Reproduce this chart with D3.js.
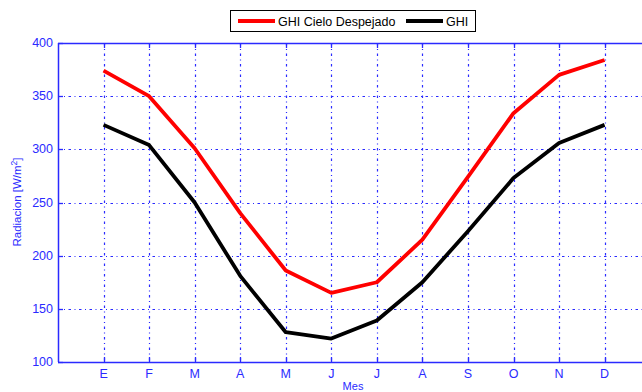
<!DOCTYPE html>
<html><head><meta charset="utf-8">
<script src="https://cdn.jsdelivr.net/npm/d3@7"></script>
<style>body{margin:0;background:#fff}svg{display:block}</style>
</head><body><svg id="c" width="642" height="392"></svg>
<script>
const months = ["E","F","M","A","M","J","J","A","S","O","N","D"];
const ghiClear = [374, 350, 301, 240, 186, 165, 175, 215, 274, 334, 370, 384];
const ghi = [323, 304, 250, 181, 128, 122, 139, 175, 223, 273, 306, 323];
const yTicks = [100,150,200,250,300,350,400];
const seriesNames = ["GHI Cielo Despejado","GHI"];
const seriesColors = ["#ff0000","#000000"];

const svg = d3.select("#c");
const L=58, T=43, B=362, Rpx=58+13*45.55;
const x = d3.scaleLinear().domain([0,13]).range([L,Rpx]);
const y = d3.scaleLinear().domain([100,400]).range([B,T]);
const axisCol="#2a2aff", font="Liberation Sans, Arial, Helvetica, sans-serif";

// grid
const g = svg.append("g");
g.selectAll("line.h").data(yTicks.slice(1,-1)).join("line")
 .attr("x1",L).attr("x2",642).attr("y1",d=>Math.round(y(d))+0.5).attr("y2",d=>Math.round(y(d))+0.5)
 .attr("stroke",axisCol).attr("stroke-width",1.2).attr("stroke-dasharray","2.5,3.5,1,3.5");
g.selectAll("line.v").data(months.map((m,i)=>i+1)).join("line")
 .attr("x1",d=>Math.round(x(d))+0.5).attr("x2",d=>Math.round(x(d))+0.5).attr("y1",T).attr("y2",B)
 .attr("stroke",axisCol).attr("stroke-width",1.2).attr("stroke-dasharray","2.5,3.5,1,3.5");

// axes frame
svg.append("line").attr("x1",L+0.5).attr("x2",L+0.5).attr("y1",T).attr("y2",B).attr("stroke",axisCol).attr("stroke-width",1.5);
svg.append("line").attr("x1",L).attr("x2",642).attr("y1",B+0.5).attr("y2",B+0.5).attr("stroke",axisCol).attr("stroke-width",1.5);
svg.append("line").attr("x1",L).attr("x2",642).attr("y1",T+0.5).attr("y2",T+0.5).attr("stroke",axisCol).attr("stroke-width",1.5);

// ticks
months.forEach((m,i)=>{
  const xx=Math.round(x(i+1))+0.5;
  svg.append("line").attr("x1",xx).attr("x2",xx).attr("y1",B).attr("y2",B-5).attr("stroke",axisCol).attr("stroke-width",1.3);
  svg.append("line").attr("x1",xx).attr("x2",xx).attr("y1",T).attr("y2",T+5).attr("stroke",axisCol).attr("stroke-width",1.3);
  svg.append("text").attr("x",x(i+1)).attr("y",B+16).attr("text-anchor","middle")
   .attr("font-family",font).attr("font-size",12.5).attr("fill",axisCol).text(m);
});
yTicks.forEach(v=>{
  const yy=Math.round(y(v))+0.5;
  svg.append("line").attr("x1",L).attr("x2",L+5).attr("y1",yy).attr("y2",yy).attr("stroke",axisCol).attr("stroke-width",1.3);
  svg.append("text").attr("x",L-5).attr("y",y(v)+4).attr("text-anchor","end")
   .attr("font-family",font).attr("font-size",12.5).attr("fill",axisCol).text(v);
});

// labels
const yl = svg.append("text").attr("transform","translate(21,202) rotate(-90)").attr("text-anchor","middle")
 .attr("font-family",font).attr("font-size",11.5).attr("fill",axisCol);
yl.append("tspan").text("Radiacion [W/m");
yl.append("tspan").attr("dy",-4).attr("font-size",8.5).text("2");
yl.append("tspan").attr("dy",4).text("]");
svg.append("text").attr("x",353).attr("y",390).attr("text-anchor","middle")
 .attr("font-family",font).attr("font-size",11).attr("fill",axisCol).text("Mes");

// lines
const line = d3.line().x((d,i)=>x(i+1)).y(d=>y(d));
[ghiClear, ghi].forEach((s,k)=>{
  svg.append("path").datum(s).attr("d",line).attr("fill","none")
   .attr("stroke",seriesColors[k]).attr("stroke-width",3.8).attr("stroke-linejoin","round");
});

// legend
const lg = svg.append("g");
lg.append("rect").attr("x",230.5).attr("y",10.5).attr("width",245).attr("height",21)
 .attr("fill","#fff").attr("stroke","#000").attr("stroke-width",1);
const items=[{x1:238,x2:275,tx:278},{x1:406,x2:443,tx:446}];
items.forEach((it,k)=>{
  lg.append("line").attr("x1",it.x1).attr("x2",it.x2).attr("y1",21).attr("y2",21)
   .attr("stroke",seriesColors[k]).attr("stroke-width",3.8);
  lg.append("text").attr("x",it.tx).attr("y",25.5).attr("font-family",font).attr("font-size",12.5)
   .attr("fill","#000").text(seriesNames[k]);
});
</script></body></html>
